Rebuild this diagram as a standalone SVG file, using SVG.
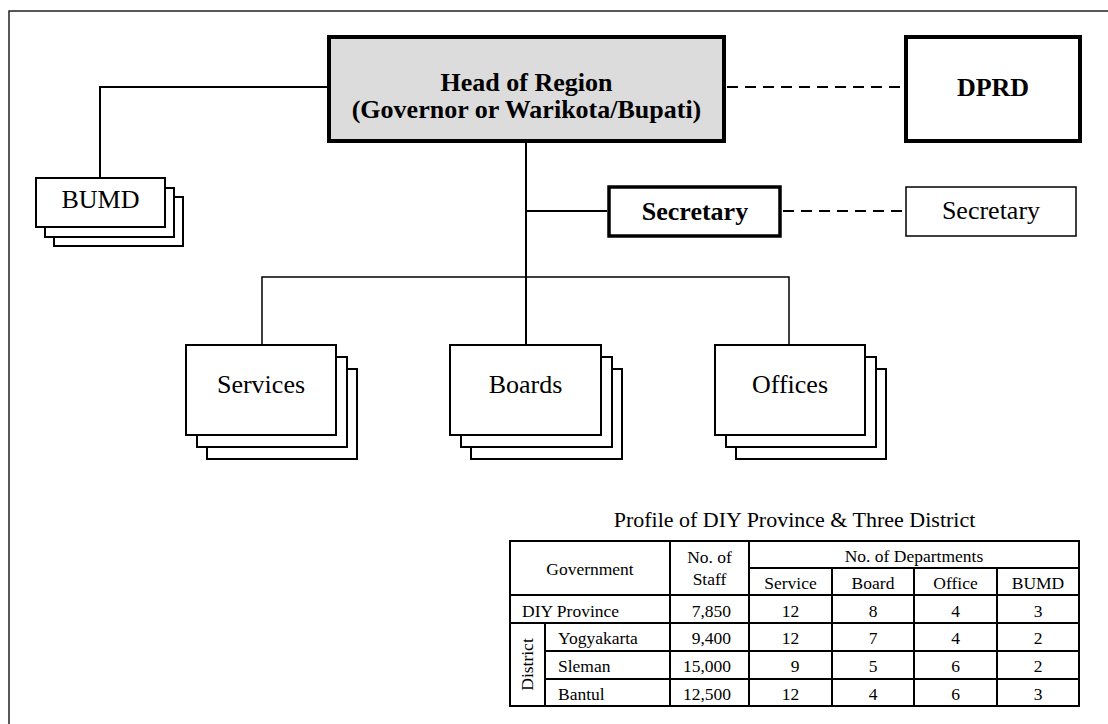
<svg xmlns="http://www.w3.org/2000/svg" width="1108" height="724" viewBox="0 0 1108 724">
  <style>
    text { font-family: "Liberation Serif", "Times New Roman", "DejaVu Serif", serif; fill: #000; }
    .b { font-weight: bold; }
    .mid { text-anchor: middle; }
    .end { text-anchor: end; }
    .box { fill: #fff; stroke: #000; stroke-width: 2; }
    .thick { fill: #fff; stroke: #000; stroke-width: 4; }
    .line { fill: none; stroke: #000; stroke-width: 2; }
    .thin { fill: none; stroke: #000; stroke-width: 1.5; }
    .dash { fill: none; stroke: #000; stroke-width: 2; stroke-dasharray: 11 7; }
    .grid { fill: none; stroke: #000; stroke-width: 2; }
    .t { font-size: 17.5px; }
  </style>

  <rect width="1108" height="724" fill="#fff"/>

  <!-- page frame (top and left edges) -->
  <path d="M9,724 V11 H1108" fill="none" stroke="#222" stroke-width="1.5"/>

  <!-- connectors -->
  <g id="connectors">
    <polyline class="line" points="327,87 100,87 100,178"/>
    <line class="dash" x1="727" y1="87" x2="904" y2="87"/>
    <line class="line" x1="526" y1="143" x2="526" y2="344"/>
    <line class="line" x1="526" y1="211" x2="607" y2="211"/>
    <line class="dash" x1="783" y1="211" x2="905" y2="211"/>
    <polyline class="thin" points="262,344 262,277 789,277 789,344"/>
  </g>

  <!-- Head of Region -->
  <g id="head">
    <rect x="329" y="37" width="395" height="104" fill="#dcdcdc" stroke="#000" stroke-width="4"/>
    <text class="b mid" x="526.5" y="91" font-size="26">Head of Region</text>
    <text class="b mid" x="526.5" y="118" font-size="26">(Governor or Warikota/Bupati)</text>
  </g>

  <!-- DPRD -->
  <g id="dprd">
    <rect class="thick" x="906" y="37" width="174" height="104"/>
    <text class="b mid" x="993" y="96" font-size="26">DPRD</text>
  </g>

  <!-- Secretary (bold) -->
  <g id="secretary-main">
    <rect x="609" y="187" width="171" height="49" fill="#fff" stroke="#000" stroke-width="3.5"/>
    <text class="b mid" x="695" y="220" font-size="26">Secretary</text>
  </g>

  <!-- Secretary (DPRD side) -->
  <g id="secretary-dprd">
    <rect x="906" y="187" width="170" height="49" fill="#fff" stroke="#000" stroke-width="1.5"/>
    <text class="mid" x="991" y="219" font-size="26">Secretary</text>
  </g>

  <!-- BUMD stack -->
  <g id="bumd">
    <rect class="box" x="54" y="197" width="129" height="49"/>
    <rect class="box" x="45" y="188" width="129" height="49"/>
    <rect class="box" x="36" y="178" width="129" height="49"/>
    <text class="mid" x="100.5" y="208" font-size="26">BUMD</text>
  </g>

  <!-- Services stack -->
  <g id="services">
    <rect class="box" x="207" y="369" width="150" height="90"/>
    <rect class="box" x="197" y="357" width="150" height="90"/>
    <rect class="box" x="186" y="345" width="150" height="90"/>
    <text class="mid" x="261" y="393" font-size="26">Services</text>
  </g>

  <!-- Boards stack -->
  <g id="boards">
    <rect class="box" x="471" y="369" width="151" height="90"/>
    <rect class="box" x="461" y="357" width="151" height="90"/>
    <rect class="box" x="450" y="345" width="151" height="90"/>
    <text class="mid" x="525.5" y="393" font-size="26">Boards</text>
  </g>

  <!-- Offices stack -->
  <g id="offices">
    <rect class="box" x="736" y="369" width="150" height="90"/>
    <rect class="box" x="726" y="357" width="150" height="90"/>
    <rect class="box" x="715" y="345" width="150" height="90"/>
    <text class="mid" x="790" y="393" font-size="26">Offices</text>
  </g>

  <!-- profile table -->
  <g id="profile-table">
    <text class="mid" x="794.5" y="527" font-size="22">Profile of DIY Province &amp; Three District</text>
    <rect class="grid" x="510" y="541" width="569" height="165"/>
    <!-- verticals -->
    <line class="grid" x1="670" y1="541" x2="670" y2="706"/>
    <line class="grid" x1="749" y1="541" x2="749" y2="706"/>
    <line class="grid" x1="832" y1="568" x2="832" y2="706"/>
    <line class="grid" x1="914" y1="568" x2="914" y2="706"/>
    <line class="grid" x1="997" y1="568" x2="997" y2="706"/>
    <line class="grid" x1="545" y1="623" x2="545" y2="706"/>
    <!-- horizontals -->
    <line class="grid" x1="749" y1="568" x2="1079" y2="568"/>
    <line class="grid" x1="510" y1="595" x2="1079" y2="595"/>
    <line class="grid" x1="510" y1="623" x2="1079" y2="623"/>
    <line class="grid" x1="545" y1="651" x2="1079" y2="651"/>
    <line class="grid" x1="545" y1="679" x2="1079" y2="679"/>

    <!-- header -->
    <text class="t mid" x="590" y="575">Government</text>
    <text class="t mid" x="709.5" y="563">No. of</text>
    <text class="t mid" x="709.5" y="585">Staff</text>
    <text class="t mid" x="914" y="562">No. of Departments</text>
    <text class="t mid" x="790.5" y="589">Service</text>
    <text class="t mid" x="873" y="589">Board</text>
    <text class="t mid" x="955.5" y="589">Office</text>
    <text class="t mid" x="1038" y="589">BUMD</text>

    <!-- rows -->
    <text class="t" x="522" y="617">DIY Province</text>
    <text class="t" x="558" y="644">Yogyakarta</text>
    <text class="t" x="558" y="672">Sleman</text>
    <text class="t" x="558" y="700">Bantul</text>
    <text class="t mid" transform="translate(533,664.5) rotate(-90)">District</text>

    <text class="t end" x="731" y="617">7,850</text>
    <text class="t end" x="731" y="644">9,400</text>
    <text class="t end" x="731" y="672">15,000</text>
    <text class="t end" x="731" y="700">12,500</text>

    <text class="t mid" x="790.5" y="617">12</text>
    <text class="t mid" x="790.5" y="644">12</text>
    <text class="t mid" x="795" y="672">9</text>
    <text class="t mid" x="790.5" y="700">12</text>

    <text class="t mid" x="873" y="617">8</text>
    <text class="t mid" x="873" y="644">7</text>
    <text class="t mid" x="873" y="672">5</text>
    <text class="t mid" x="873" y="700">4</text>

    <text class="t mid" x="955.5" y="617">4</text>
    <text class="t mid" x="955.5" y="644">4</text>
    <text class="t mid" x="955.5" y="672">6</text>
    <text class="t mid" x="955.5" y="700">6</text>

    <text class="t mid" x="1038" y="617">3</text>
    <text class="t mid" x="1038" y="644">2</text>
    <text class="t mid" x="1038" y="672">2</text>
    <text class="t mid" x="1038" y="700">3</text>
  </g>
</svg>
